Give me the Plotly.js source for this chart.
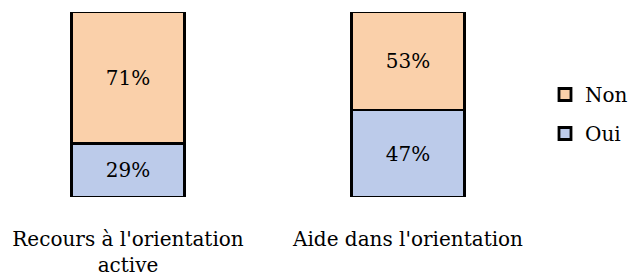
<!DOCTYPE html>
<html>
<head>
<meta charset="utf-8">
<script src="https://cdn.plot.ly/plotly-3.0.1.min.js"></script>
<style>html,body{margin:0;padding:0;background:#fff;}#chart{width:630px;height:278px;}</style>
</head>
<body>
<div id="chart"></div>
<script>
const categories = ["Recours à l'orientation<br>active", "Aide dans l'orientation"];
const ouiValues = [29, 47];
const nonValues = [71, 53];
const seriesNames = ["Oui", "Non"];

const FONT = 'DejaVu Serif';
const FS = 20;

const traces = [
  {
    type: 'bar', name: seriesNames[0], x: categories, y: ouiValues,
    legendgroup: 'oui', legendrank: 2,
    width: 0.404,
    marker: {color: '#bccbea', line: {color: '#000', width: 2.8}},
    texttemplate: '%{y}%', textposition: 'inside', insidetextanchor: 'middle',
    textfont: {family: FONT, size: FS, color: '#000'},
    hoverinfo: 'skip'
  },
  {
    type: 'bar', name: seriesNames[1], x: categories, y: nonValues,
    legendgroup: 'non', legendrank: 1,
    width: 0.404,
    marker: {color: '#fad0aa', line: {color: '#000', width: 2.8}},
    texttemplate: '%{y}%', textposition: 'inside', insidetextanchor: 'middle',
    textfont: {family: FONT, size: FS, color: '#000'},
    hoverinfo: 'skip'
  }
];

const layout = {
  width: 630, height: 278,
  margin: {l: 8, r: 90, t: 12, b: 81, pad: 0},
  barmode: 'stack',
  paper_bgcolor: '#fff', plot_bgcolor: '#fff',
  font: {family: FONT, size: FS, color: '#000'},
  showlegend: true,
  legend: {
    xref: 'container', yref: 'container',
    x: 545/630, xanchor: 'left',
    y: 1 - 114/278, yanchor: 'middle',
    traceorder: 'grouped', tracegroupgap: 10,
    font: {family: FONT, size: FS, color: '#000'},
    bgcolor: 'rgba(0,0,0,0)', itemclick: false
  },
  xaxis: {
    type: 'category', range: [-0.4286, 1.4714],
    showgrid: false, zeroline: false, showline: false,
    ticks: 'outside', ticklen: 24, tickcolor: 'rgba(0,0,0,0)',
    tickfont: {family: FONT, size: FS, color: '#000'},
    fixedrange: true
  },
  yaxis: {
    range: [0, 100], visible: false, showgrid: false, zeroline: false,
    fixedrange: true
  }
};

Plotly.newPlot('chart', traces, layout, {displayModeBar: false, staticPlot: true});
</script>
</body>
</html>
